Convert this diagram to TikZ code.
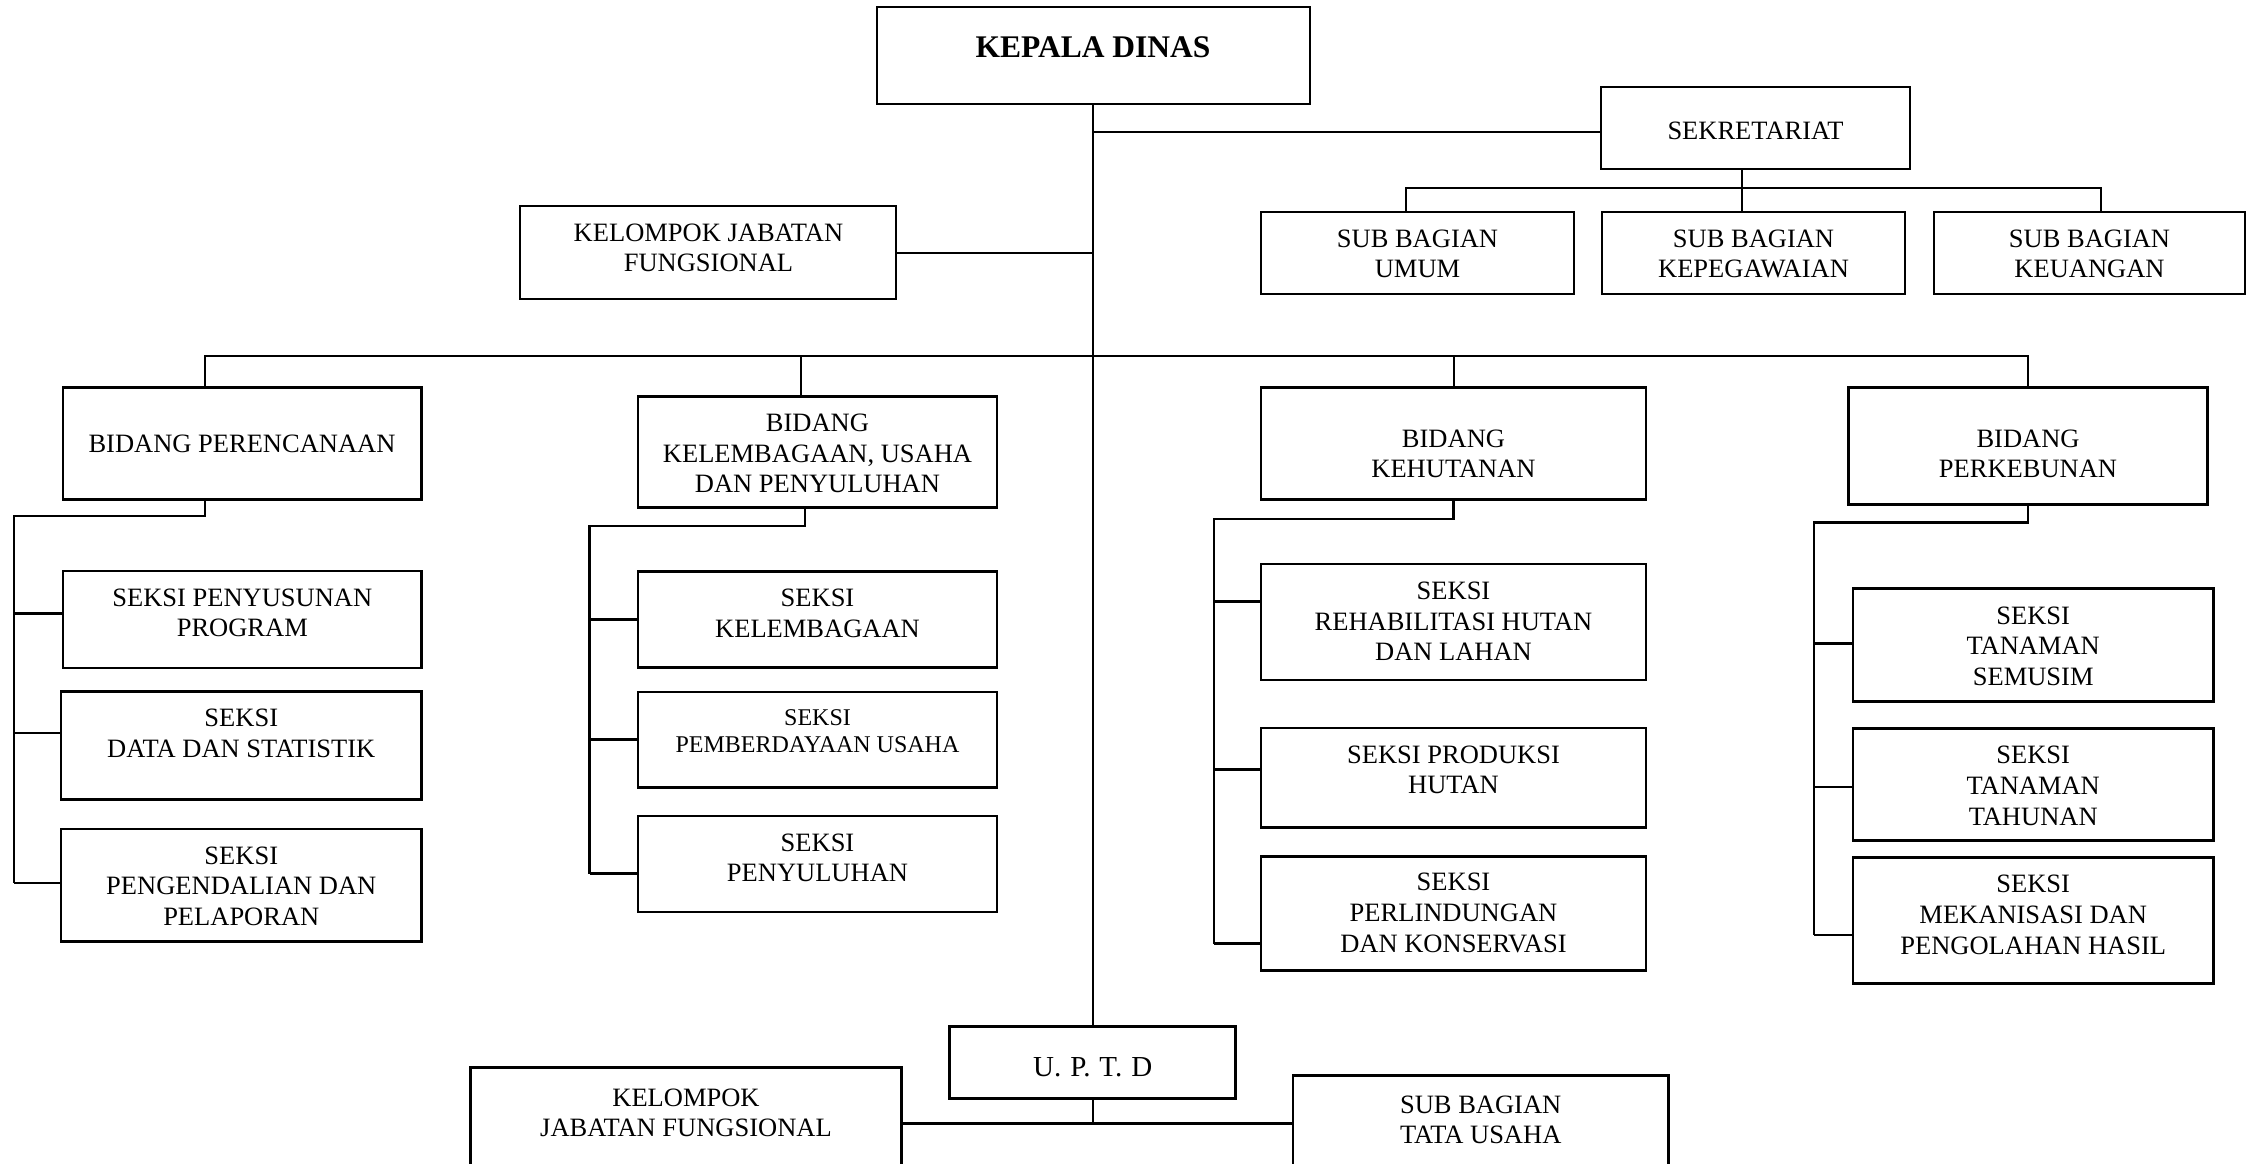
\documentclass[tikz,border=0pt]{standalone}
\usepackage{fontspec}
\setmainfont{Liberation Serif}
\begin{document}
\begin{tikzpicture}[x=1pt,y=-1pt,
  box/.style={draw, line width=2.6pt, inner sep=0pt},
  txt/.style={align=center, inner sep=0pt, font=\fontsize{26.5}{30.6}\selectfont},
  small/.style={align=center, inner sep=0pt, font=\fontsize{24}{27}\selectfont},
  link/.style={line width=2pt},
  bus/.style={line width=2.5pt}]
\useasboundingbox (0,0) rectangle (2251,1164);
\begin{scope}
\clip (0,0) rectangle (2251,1164);

% ---------- top level ----------
\node[box, minimum width=433, minimum height=97] (kepala) at (1093.5,55.5) {};
\node[inner sep=0pt, font=\fontsize{31.5}{36}\selectfont\bfseries] (kepala-t) at (1093,47) {KEPALA DINAS};

\node[box, minimum width=309, minimum height=82] (sek) at (1755.5,128) {};
\node[txt] (sek-t) at (1755.5,131) {SEKRETARIAT};

\node[box, minimum width=313, minimum height=82] (umum) at (1417.5,253) {};
\node[txt] (umum-t) at (1417.5,254) {SUB BAGIAN\\UMUM};
\node[box, minimum width=303, minimum height=82] (kepeg) at (1753.5,253) {};
\node[txt] (kepeg-t) at (1753.5,254) {SUB BAGIAN\\KEPEGAWAIAN};
\node[box, minimum width=311, minimum height=82] (keu) at (2089.5,253) {};
\node[txt] (keu-t) at (2089.5,254) {SUB BAGIAN\\KEUANGAN};

\node[box, minimum width=376, minimum height=93] (kjf) at (708,252.5) {};
\node[txt] (kjf-t) at (708.5,248) {KELOMPOK JABATAN\\FUNGSIONAL};

% ---------- bidang ----------
\node[box, minimum width=358.6, minimum height=111.7] (bper) at (242.3,443.5) {};
\node[txt] (bper-t) at (242,444) {BIDANG PERENCANAAN};
\node[box, minimum width=359, minimum height=111.3] (bkel) at (817.5,452) {};
\node[txt] (bkel-t) at (817.5,453.7) {BIDANG\\KELEMBAGAAN, USAHA\\DAN PENYULUHAN};
\node[box, minimum width=385, minimum height=111.7] (bhut) at (1453.5,443.5) {};
\node[txt] (bhut-t) at (1453.5,453.7) {BIDANG\\KEHUTANAN};
\node[box, minimum width=359, minimum height=117] (bkeb) at (2028,446) {};
\node[txt] (bkeb-t) at (2028,453.7) {BIDANG\\PERKEBUNAN};

% ---------- seksi: perencanaan ----------
\node[box, minimum width=358.6, minimum height=97] (s11) at (242.3,619.3) {};
\node[txt] (s11-t) at (242.3,613) {SEKSI PENYUSUNAN\\PROGRAM};
\node[box, minimum width=360.6, minimum height=108] (s12) at (241.3,745.4) {};
\node[txt] (s12-t) at (241.3,733.5) {SEKSI\\DATA DAN STATISTIK};
\node[box, minimum width=360.6, minimum height=112.5] (s13) at (241.3,885.4) {};
\node[txt] (s13-t) at (241.3,886) {SEKSI\\PENGENDALIAN DAN\\PELAPORAN};

% ---------- seksi: kelembagaan ----------
\node[box, minimum width=359, minimum height=96.5] (s21) at (817.5,619.5) {};
\node[txt] (s21-t) at (817.5,613.5) {SEKSI\\KELEMBAGAAN};
\node[box, minimum width=359, minimum height=95.6] (s22) at (817.5,739.6) {};
\node[small] (s22-t) at (817.5,731) {SEKSI\\PEMBERDAYAAN USAHA};
\node[box, minimum width=359, minimum height=96] (s23) at (817.5,863.8) {};
\node[txt] (s23-t) at (817.5,858) {SEKSI\\PENYULUHAN};

% ---------- seksi: kehutanan ----------
\node[box, minimum width=385, minimum height=116] (s31) at (1453.5,622) {};
\node[txt] (s31-t) at (1453.5,621.5) {SEKSI\\REHABILITASI HUTAN\\DAN LAHAN};
\node[box, minimum width=385, minimum height=99.5] (s32) at (1453.5,777.9) {};
\node[txt] (s32-t) at (1453.5,769.8) {SEKSI PRODUKSI\\HUTAN};
\node[box, minimum width=385, minimum height=114] (s33) at (1453.5,913.4) {};
\node[txt] (s33-t) at (1453.5,913) {SEKSI\\PERLINDUNGAN\\DAN KONSERVASI};

% ---------- seksi: perkebunan ----------
\node[box, minimum width=360.7, minimum height=112.5] (s41) at (2033.2,645) {};
\node[txt] (s41-t) at (2033.2,646.2) {SEKSI\\TANAMAN\\SEMUSIM};
\node[box, minimum width=360.7, minimum height=112] (s42) at (2033.2,784.5) {};
\node[txt] (s42-t) at (2033.2,785.9) {SEKSI\\TANAMAN\\TAHUNAN};
\node[box, minimum width=360.7, minimum height=126] (s43) at (2033.2,920.5) {};
\node[txt] (s43-t) at (2033.2,914.9) {SEKSI\\MEKANISASI DAN\\PENGOLAHAN HASIL};

% ---------- U.P.T.D ----------
\node[box, minimum width=286, minimum height=72] (uptd) at (1092.7,1062.7) {};
\node[inner sep=0pt, font=\fontsize{29}{33}\selectfont] (uptd-t) at (1092.7,1067.5) {U.\hspace{9pt}P.\hspace{9pt}T.\hspace{9pt}D};
\node[box, minimum width=431, minimum height=130] (kjf2) at (686,1132.3) {};
\node[txt] (kjf2-t) at (686,1113) {KELOMPOK\\JABATAN FUNGSIONAL};
\node[box, minimum width=375.6, minimum height=122] (tu) at (1480.7,1136.7) {};
\node[txt] (tu-t) at (1480.7,1120) {SUB BAGIAN\\TATA USAHA};

% ---------- connectors ----------
% trunk
\coordinate (tr) at (1093,0);
\draw[link] (tr |- kepala.south) -- (tr |- uptd.north);
% secretariat
\draw[link] (tr |- 0,132) -- (sek.west |- 0,132);
\coordinate (sx) at (1742,0);
\draw[link] (sx |- sek.south) -- (sx |- kepeg.north);
\draw[bus] (umum.north -| 1406,0) |- (sx |- 0,188) -| (keu.north -| 2101,0);
% functional group
\draw[link] (kjf.east) -- (tr |- kjf.east);
% main bus to the bidang
\draw[bus] (bper.north -| 205,0) |- (tr |- 0,356) -| (bkeb.north);
\draw[link] (bkel.north -| 800.7,0) -- (800.7,356);
\draw[link] (bhut.north) -- (bhut.north |- 0,356);

% perencanaan column
\draw[bus] (bper.south -| 205,0) |- (14,516) -- (14,883.1);
\draw[bus] (14,613.3) -- (s11.west |- 0,613.3);
\draw[bus] (14,733.1) -- (s12.west |- 0,733.1);
\draw[bus] (14,883.1) -- (s13.west |- 0,883.1);

% kelembagaan column
\draw[bus] (bkel.south -| 805,0) |- (589.5,526.1) -- (589.5,873.5);
\draw[bus] (589.5,619.4) -- (s21.west |- 0,619.4);
\draw[bus] (589.5,739.6) -- (s22.west |- 0,739.6);
\draw[bus] (589.5,873.5) -- (s23.west |- 0,873.5);

% kehutanan column
\draw[bus] (bhut.south) |- (1214,518.8) -- (1214,943.5);
\draw[bus] (1214,601.5) -- (s31.west |- 0,601.5);
\draw[bus] (1214,769.4) -- (s32.west |- 0,769.4);
\draw[bus] (1214,943.5) -- (s33.west |- 0,943.5);

% perkebunan column
\draw[bus] (bkeb.south) |- (1813.9,522.6) -- (1813.9,935.1);
\draw[bus] (1813.9,643.6) -- (s41.west |- 0,643.6);
\draw[bus] (1813.9,787) -- (s42.west |- 0,787);
\draw[bus] (1813.9,935.1) -- (s43.west |- 0,935.1);

% U.P.T.D branches
\draw[link] (tr |- uptd.south) -- (tr |- 0,1123.3);
\draw[bus] (kjf2.east |- 0,1123.3) -- (tu.west |- 0,1123.3);
\end{scope}
\end{tikzpicture}
\end{document}
